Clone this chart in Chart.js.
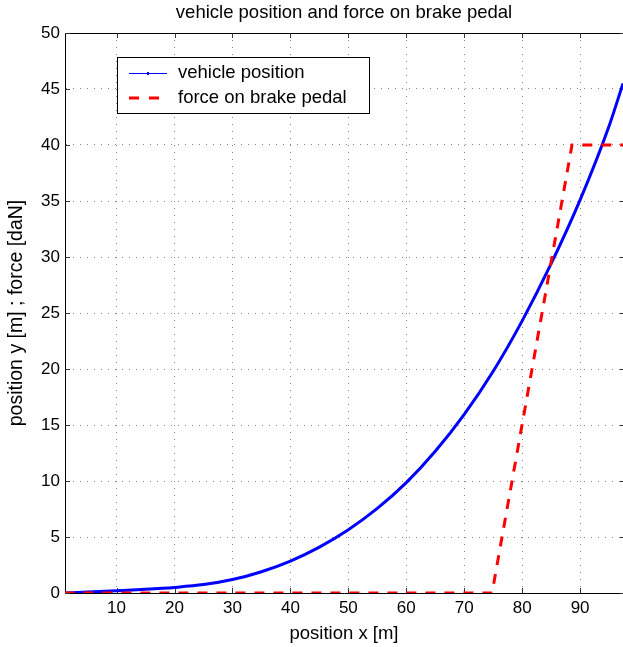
<!DOCTYPE html>
<html><head><meta charset="utf-8">
<script src="https://cdn.jsdelivr.net/npm/chart.js@4.4.1/dist/chart.umd.min.js"></script>
<style>html,body{margin:0;padding:0;background:#fff}#wrap{width:623px;height:647px}</style>
</head><body><div id="wrap"><canvas id="c" width="623" height="647"></canvas></div>
<script>
const titleText = 'vehicle position and force on brake pedal';
const xLabel = 'position x [m]';
const yLabel = 'position y [m] ; force [daN]';
const seriesNames = ['vehicle position', 'force on brake pedal'];
const xTicks = [10, 20, 30, 40, 50, 60, 70, 80, 90];
const yTicks = [0, 5, 10, 15, 20, 25, 30, 35, 40, 45, 50];
const xRange = [1.1, 97.4];
const yRange = [0, 50];
const posX = [1, 5, 10, 15, 20, 25, 30, 35, 40, 45, 50, 55, 60, 65, 70, 75, 80, 85, 90, 95, 97.4];
const posY = [0, 0.08, 0.2, 0.33, 0.5, 0.75, 1.2, 1.9, 2.85, 4.1, 5.65, 7.55, 9.85, 12.65, 15.95, 19.8, 24.3, 29.4, 35.1, 41.7, 45.5];
const forceX = [1, 74.8, 88.6, 97.4];
const forceY = [0, 0, 40, 40];

const FONT = "'Liberation Sans', Arial, Helvetica, sans-serif";
const TXT = 18.5;
const toXY = (xs, ys) => xs.map((x, i) => ({x: x, y: ys[i]}));

const frame = {
  id: 'frame',
  beforeDatasetsDraw(chart) {
    const {ctx, chartArea: a, scales} = chart;
    ctx.save();
    ctx.strokeStyle = '#000';
    ctx.lineWidth = 1;
    ctx.beginPath();
    ctx.moveTo(a.left, a.top + 0.5); ctx.lineTo(a.right, a.top + 0.5);
    ctx.stroke();
    ctx.strokeStyle = '#333';
    ctx.beginPath();
    const L = 5;
    xTicks.forEach(v => {
      const p = Math.round(scales.x.getPixelForValue(v)) + 0.5;
      ctx.moveTo(p, a.bottom); ctx.lineTo(p, a.bottom - L);
      ctx.moveTo(p, a.top); ctx.lineTo(p, a.top + L);
    });
    yTicks.forEach(v => {
      const p = Math.round(scales.y.getPixelForValue(v)) + 0.5;
      ctx.moveTo(a.left, p); ctx.lineTo(a.left + L, p);
      ctx.moveTo(a.right, p); ctx.lineTo(a.right - 3, p);
    });
    ctx.stroke();
    ctx.restore();
  }
};

const legendBox = {
  id: 'legendBox',
  afterDraw(chart) {
    const {ctx} = chart;
    const ds = chart.data.datasets;
    const x0 = 117, y0 = 57, w = 252, h = 56;
    ctx.save();
    ctx.fillStyle = '#fff';
    ctx.fillRect(x0, y0, w, h);
    ctx.strokeStyle = '#000';
    ctx.lineWidth = 1;
    ctx.strokeRect(x0 + 0.5, y0 + 0.5, w, h);
    const rows = [73, 98];
    rows.forEach((ry, i) => {
      const d = ds[i];
      ctx.save();
      ctx.beginPath();
      ctx.rect(x0 + 11, ry - 5, 39, 10);
      ctx.clip();
      ctx.strokeStyle = d.borderColor;
      if (i === 0) {
        ctx.lineWidth = 1;
        ctx.setLineDash([]);
        ctx.beginPath(); ctx.moveTo(x0 + 12, ry + 0.5); ctx.lineTo(x0 + 50, ry + 0.5); ctx.stroke();
        ctx.fillStyle = d.borderColor;
        ctx.fillRect(x0 + 30, ry - 1, 2, 3);
      } else {
        ctx.lineWidth = 3;
        ctx.setLineDash([10, 10]);
        ctx.beginPath(); ctx.moveTo(x0 + 12, ry); ctx.lineTo(x0 + 50, ry); ctx.stroke();
      }
      ctx.restore();
      ctx.fillStyle = '#000';
      ctx.font = TXT + 'px ' + FONT;
      ctx.textBaseline = 'middle';
      ctx.textAlign = 'left';
      ctx.fillText(d.label, x0 + 61, ry);
    });
    ctx.restore();
  }
};

new Chart(document.getElementById('c'), {
  type: 'line',
  data: {
    datasets: [
      {label: seriesNames[0], data: toXY(posX, posY), borderColor: '#0000ff', borderWidth: 3,
       pointRadius: 0, cubicInterpolationMode: 'monotone', fill: false, order: 1},
      {label: seriesNames[1], data: toXY(forceX, forceY), borderColor: '#ff0000', borderWidth: 3,
       borderDash: [10, 9], pointRadius: 0, tension: 0, fill: false, order: 0}
    ]
  },
  options: {
    responsive: false,
    animation: false,
    devicePixelRatio: 1,
    layout: {padding: {left: 0, right: 0, top: 0, bottom: 0}},
    plugins: {
      legend: {display: false},
      tooltip: {enabled: false},
      title: {display: true, fullSize: false, text: titleText, color: '#000',
              font: {family: FONT, size: TXT, weight: 'normal', lineHeight: 1.2},
              padding: {top: 1.9, bottom: 8.9}}
    },
    scales: {
      x: {
        type: 'linear', min: xRange[0], max: xRange[1],
        afterBuildTicks: ax => { ax.ticks = xTicks.map(v => ({value: v})); },
        afterFit: ax => { ax.height = 54; },
        ticks: {color: '#000', padding: 5, font: {family: FONT, size: 17}, maxRotation: 0, autoSkip: false},
        grid: {color: '#858585', drawTicks: false, lineWidth: 1},
        border: {display: true, color: '#000', width: 1, dash: [1, 6]},
        title: {display: true, text: xLabel, color: '#000', font: {family: FONT, size: TXT, lineHeight: 1.2}, padding: {top: 0, bottom: 1.9}}
      },
      y: {
        type: 'linear', min: yRange[0], max: yRange[1],
        afterBuildTicks: ax => { ax.ticks = yTicks.map(v => ({value: v})); },
        afterFit: ax => { ax.width = 65; },
        ticks: {color: '#000', padding: 5, font: {family: FONT, size: 17}, autoSkip: false},
        grid: {color: '#858585', drawTicks: false, lineWidth: 1},
        border: {display: true, color: '#000', width: 1, dash: [1, 6]},
        title: {display: true, text: yLabel, color: '#000', font: {family: FONT, size: 19.5, lineHeight: 1.2}, padding: {top: 5.3, bottom: 0}}
      }
    }
  },
  plugins: [frame, legendBox]
});
</script>
</body></html>
